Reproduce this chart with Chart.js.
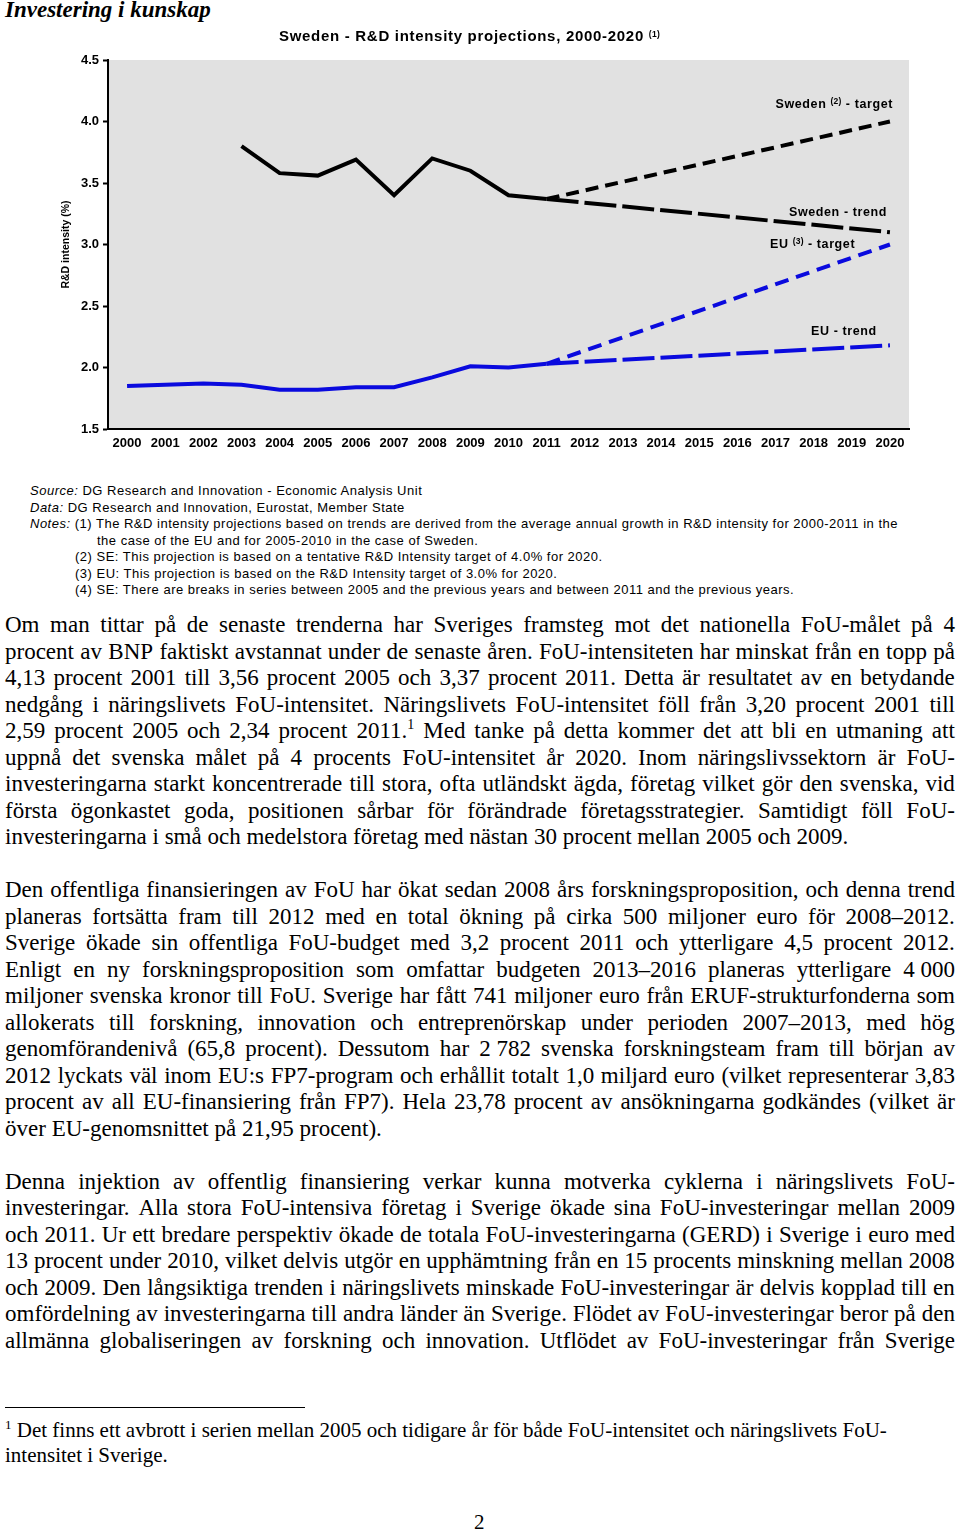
<!DOCTYPE html>
<html>
<head>
<meta charset="utf-8">
<script src="https://cdn.jsdelivr.net/npm/chart.js@4/dist/chart.umd.min.js"></script>
<style>
  body { margin: 0; background: #fff; }
  #page { position: relative; width: 960px; height: 1529px; overflow: hidden; color: #000; }
  #heading { position: absolute; left: 5px; top: -3px; font: italic bold 23px 'Liberation Serif', serif; }
  #charttitle { position: absolute; left: 279px; top: 27px; font: bold 15px 'Liberation Sans', Arial, sans-serif; letter-spacing: 0.7px; white-space: nowrap; }
  #chartbox { position: absolute; left: 0; top: 0; width: 960px; height: 460px; }
  .lbl { position: absolute; font: bold 12.5px 'Liberation Sans', Arial, sans-serif; letter-spacing: 0.6px; white-space: nowrap; }
  sup.s { font-size: 8.5px; vertical-align: 4px; line-height: 0; letter-spacing: 0.3px; }
  #notes { position: absolute; left: 30px; top: 483px; font: 13px 'Liberation Sans', Arial, sans-serif; letter-spacing: 0.5px; line-height: 16.5px; white-space: nowrap; }
  #notes i { font-style: italic; }
  #body { position: absolute; left: 5px; top: 612px; width: 950px; font: 23px 'Liberation Serif', 'Times New Roman', serif; line-height: 26.5px; }
  .ln { display: flex; justify-content: space-between; align-items: baseline; white-space: nowrap; height: 26.5px; }
  .last { white-space: nowrap; height: 26.5px; }
  .gap { height: 26.5px; }
  #fnline { position: absolute; left: 5px; top: 1407px; width: 300px; border-top: 1px solid #000; }
  #footnote { position: absolute; left: 5px; top: 1418px; font: 21px 'Liberation Serif', serif; line-height: 25px; }
  #footnote sup { font-size: 13px; line-height: 0; }
  #pnum { position: absolute; left: 474px; top: 1510px; font: 21px 'Liberation Serif', serif; }
</style>
</head>
<body>
<div id="page">
  <div id="heading">Investering i kunskap</div>
  <div id="chartbox"><canvas id="chart" width="960" height="460"></canvas></div>
  <div id="charttitle">Sweden - R&amp;D intensity projections, 2000-2020 <sup class="s">(1)</sup></div>
  <div class="lbl" style="right:67px; top:97px;">Sweden <sup class="s">(2)</sup> - target</div>
  <div class="lbl" style="right:73px; top:205px;">Sweden - trend</div>
  <div class="lbl" style="left:770px; top:237px;">EU <sup class="s">(3)</sup> - target</div>
  <div class="lbl" style="left:811px; top:324px;">EU - trend</div>
  <div id="notes">
    <div><i>Source:</i> DG Research and Innovation - Economic Analysis Unit</div>
    <div><i>Data:</i> DG Research and Innovation, Eurostat, Member State</div>
    <div><i>Notes:</i> (1) The R&amp;D intensity projections based on trends are derived from the average annual growth in R&amp;D intensity for 2000-2011 in the</div>
    <div style="padding-left:67px;">the case of the EU and for 2005-2010 in the case of Sweden.</div>
    <div style="padding-left:45px;">(2) SE: This projection is based on a tentative R&amp;D Intensity target of 4.0% for 2020.</div>
    <div style="padding-left:45px;">(3) EU: This projection is based on the R&amp;D Intensity target of 3.0% for 2020.</div>
    <div style="padding-left:45px;">(4) SE: There are breaks in series between 2005 and the previous years and between 2011 and the previous years.</div>
  </div>
  <div id="body"></div>
  <div id="fnline"></div>
  <div id="footnote"><sup>1</sup> Det finns ett avbrott i serien mellan 2005 och tidigare år för både FoU-intensitet och näringslivets FoU-<br>intensitet i Sverige.</div>
  <div id="pnum">2</div>
</div>
<script>
// chart data
const years = ['2000','2001','2002','2003','2004','2005','2006','2007','2008','2009','2010',
               '2011','2012','2013','2014','2015','2016','2017','2018','2019','2020'];
const swedenActual = [null, null, null, 3.80, 3.58, 3.56, 3.69, 3.40, 3.70, 3.60, 3.40, 3.37,
                      null, null, null, null, null, null, null, null, null];
const swedenTarget = [null, null, null, null, null, null, null, null, null, null, null, 3.37,
                      null, null, null, null, null, null, null, null, 4.00];
const swedenTrend = [null, null, null, null, null, null, null, null, null, null, null, 3.37,
                     null, null, null, null, null, null, null, null, 3.10];
const euActual = [1.85, 1.86, 1.87, 1.86, 1.82, 1.82, 1.84, 1.84, 1.92, 2.01, 2.00, 2.03,
                  null, null, null, null, null, null, null, null, null];
const euTarget = [null, null, null, null, null, null, null, null, null, null, null, 2.03,
                  null, null, null, null, null, null, null, null, 3.00];
const euTrend = [null, null, null, null, null, null, null, null, null, null, null, 2.03,
                 null, null, null, null, null, null, null, null, 2.18];
const yTicks = [1.5, 2.0, 2.5, 3.0, 3.5, 4.0, 4.5];

const BLUE = '#0a0ade';
const labelFont = { family: "'Liberation Sans', Arial, sans-serif", size: 13, weight: 'bold' };

// grey plot area
const plotBg = {
    id: 'plotBg',
    beforeDraw(chart) {
        const ctx = chart.ctx, a = chart.chartArea;
        ctx.save();
        ctx.fillStyle = '#e1e1e1';
        ctx.fillRect(a.left, a.top, a.right - a.left, a.bottom - a.top);
        ctx.restore();
    }
};

function line(data, color, dash, span) {
    return {
        data: data, borderColor: color, backgroundColor: color, borderWidth: 4,
        borderDash: dash, pointRadius: 0, tension: 0, spanGaps: span, fill: false,
        borderCapStyle: 'butt', borderJoinStyle: 'miter'
    };
}

new Chart(document.getElementById('chart').getContext('2d'), {
    type: 'line',
    data: {
        labels: years,
        datasets: [
            line(euTrend, BLUE, [32, 6], true),
            line(euTarget, BLUE, [14, 8], true),
            line(euActual, BLUE, [], false),
            line(swedenTrend, '#000', [32, 6], true),
            line(swedenTarget, '#000', [13, 7], true),
            line(swedenActual, '#000', [], false)
        ]
    },
    options: {
        responsive: false,
        animation: false,
        devicePixelRatio: 1,
        layout: { padding: { top: 60, right: 51, bottom: 0, left: 0 } },
        plugins: { legend: { display: false }, tooltip: { enabled: false }, title: { display: false } },
        scales: {
            x: {
                offset: true,
                grid: { display: true, drawOnChartArea: false, drawTicks: false },
                border: { display: true, color: '#000', width: 2 },
                ticks: { color: '#000', font: labelFont, padding: 7, maxRotation: 0, autoSkip: false },
                afterFit: s => { s.height = 31; }
            },
            y: {
                min: 1.5, max: 4.5,
                afterBuildTicks: s => { s.ticks = yTicks.map(v => ({ value: v })); },
                grid: { display: true, drawOnChartArea: false, drawTicks: true, tickLength: 5, color: '#000', tickWidth: 2 },
                border: { display: true, color: '#000', width: 2 },
                ticks: { color: '#000', font: labelFont, padding: 4, callback: v => Number(v).toFixed(1) },
                title: { display: true, text: 'R&D intensity (%)', color: '#000',
                         font: { family: "'Liberation Sans', Arial, sans-serif", size: 10.5, weight: 'bold' },
                         padding: { top: 60, bottom: 0 } },
                afterFit: s => { s.width = 108; }
            }
        }
    },
    plugins: [plotBg]
});

// body text, one entry per printed line; '' = paragraph break, '*' marks last line
const bodyLines = [
    'Om man tittar på de senaste trenderna har Sveriges framsteg mot det nationella FoU-målet på 4',
    'procent av BNP faktiskt avstannat under de senaste åren. FoU-intensiteten har minskat från en topp på',
    '4,13 procent 2001 till 3,56 procent 2005 och 3,37 procent 2011. Detta är resultatet av en betydande',
    'nedgång i näringslivets FoU-intensitet. Näringslivets FoU-intensitet föll från 3,20 procent 2001 till',
    '2,59 procent 2005 och 2,34 procent 2011.^1 Med tanke på detta kommer det att bli en utmaning att',
    'uppnå det svenska målet på 4 procents FoU-intensitet år 2020. Inom näringslivssektorn är FoU-',
    'investeringarna starkt koncentrerade till stora, ofta utländskt ägda, företag vilket gör den svenska, vid',
    'första ögonkastet goda, positionen sårbar för förändrade företagsstrategier. Samtidigt föll FoU-',
    '*investeringarna i små och medelstora företag med nästan 30 procent mellan 2005 och 2009.',
    '',
    'Den offentliga finansieringen av FoU har ökat sedan 2008 års forskningsproposition, och denna trend',
    'planeras fortsätta fram till 2012 med en total ökning på cirka 500 miljoner euro för 2008–2012.',
    'Sverige ökade sin offentliga FoU-budget med 3,2 procent 2011 och ytterligare 4,5 procent 2012.',
    'Enligt en ny forskningsproposition som omfattar budgeten 2013–2016 planeras ytterligare 4\u00a0000',
    'miljoner svenska kronor till FoU. Sverige har fått 741 miljoner euro från ERUF-strukturfonderna som',
    'allokerats till forskning, innovation och entreprenörskap under perioden 2007–2013, med hög',
    'genomförandenivå (65,8 procent). Dessutom har 2\u00a0782 svenska forskningsteam fram till början av',
    '2012 lyckats väl inom EU:s FP7-program och erhållit totalt 1,0 miljard euro (vilket representerar 3,83',
    'procent av all EU-finansiering från FP7). Hela 23,78 procent av ansökningarna godkändes (vilket är',
    '*över EU-genomsnittet på 21,95 procent).',
    '',
    'Denna injektion av offentlig finansiering verkar kunna motverka cyklerna i näringslivets FoU-',
    'investeringar. Alla stora FoU-intensiva företag i Sverige ökade sina FoU-investeringar mellan 2009',
    'och 2011. Ur ett bredare perspektiv ökade de totala FoU-investeringarna (GERD) i Sverige i euro med',
    '13 procent under 2010, vilket delvis utgör en upphämtning från en 15 procents minskning mellan 2008',
    'och 2009. Den långsiktiga trenden i näringslivets minskade FoU-investeringar är delvis kopplad till en',
    'omfördelning av investeringarna till andra länder än Sverige. Flödet av FoU-investeringar beror på den',
    'allmänna globaliseringen av forskning och innovation. Utflödet av FoU-investeringar från Sverige'
];

function wordNode(w) {
    const span = document.createElement('span');
    const i = w.indexOf('^');
    if (i >= 0) {
        span.textContent = w.slice(0, i);
        const sup = document.createElement('sup');
        sup.textContent = w.slice(i + 1);
        sup.style.fontSize = '14px';
        sup.style.lineHeight = '0';
        span.appendChild(sup);
    } else {
        span.textContent = w;
    }
    return span;
}

const bodyEl = document.getElementById('body');
bodyLines.forEach(l => {
    const div = document.createElement('div');
    if (l === '') {
        div.className = 'gap';
    } else if (l[0] === '*') {
        div.className = 'last';
        l.slice(1).split(' ').forEach((w, k) => {
            if (k > 0) div.appendChild(document.createTextNode(' '));
            div.appendChild(wordNode(w));
        });
    } else {
        div.className = 'ln';
        l.split(' ').forEach(w => div.appendChild(wordNode(w)));
    }
    bodyEl.appendChild(div);
});
</script>
</body>
</html>
